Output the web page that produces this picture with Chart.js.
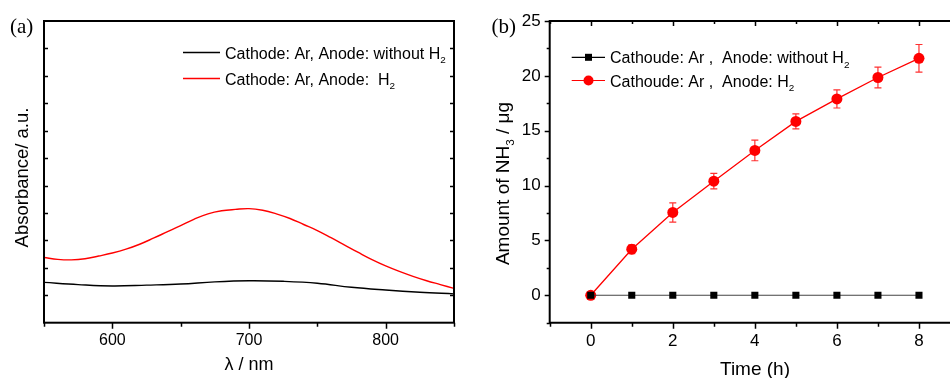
<!DOCTYPE html>
<html><head><meta charset="utf-8">
<script src="https://cdn.jsdelivr.net/npm/chart.js@4.4.1/dist/chart.umd.min.js"></script>
<style>
html,body{margin:0;padding:0;background:#fff;}
#wrap{position:relative;width:950px;height:378px;overflow:hidden;background:#fff;}
#pa{position:absolute;left:0;top:0;width:470px;height:378px;}
#pb{position:absolute;left:480px;top:0;width:490px;height:378px;}
</style></head><body>
<div id="wrap"><div id="pa"><canvas id="ca" width="470" height="378"></canvas></div><div id="pb"><canvas id="cb" width="490" height="378"></canvas></div></div>
<script>
// ---------- Panel (a) data ----------
const wlRed = [550,560,570,580,590,600,610,620,630,640,650,660,670,680,690,700,710,720,730,740,750,760,770,780,790,800,810,820,830,840,850];
const absH2 = [2.38,2.31,2.29,2.33,2.43,2.54,2.68,2.86,3.08,3.31,3.54,3.78,3.97,4.08,4.13,4.16,4.1,3.97,3.8,3.58,3.36,3.1,2.83,2.56,2.3,2.07,1.87,1.69,1.53,1.39,1.25];
const wlBlack = [550,575,600,625,650,675,700,725,750,775,800,825,850];
const absNoH2 = [1.47,1.39,1.34,1.37,1.41,1.49,1.53,1.51,1.44,1.29,1.19,1.11,1.05];
// ---------- Panel (b) data ----------
const timeH = [0,1,2,3,4,5,6,7,8];
const nh3NoH2 = [0,0,0,0,0,0,0,0,0];
const nh3H2 = [0,4.2,7.55,10.4,13.2,15.85,17.9,19.85,21.6];
const nh3H2Err = [0,0.4,0.88,0.71,0.94,0.68,0.83,0.95,1.26];

const SANS = '"Liberation Sans", Arial, sans-serif';
const SERIF = '"Liberation Serif", "Times New Roman", serif';

function richWidth(ctx, parts, size) {
  let w = 0;
  for (const p of parts) {
    ctx.font = (p.sub ? size * 0.62 : size) + 'px ' + SANS;
    w += ctx.measureText(p.t).width;
  }
  return w;
}
function drawRich(ctx, parts, x, y, size) {
  ctx.textBaseline = 'alphabetic';
  ctx.textAlign = 'left';
  for (const p of parts) {
    ctx.font = (p.sub ? size * 0.62 : size) + 'px ' + SANS;
    ctx.fillText(p.t, x, y + (p.sub ? size * 0.28 : 0));
    x += ctx.measureText(p.t).width;
  }
}

// ---------------- Panel (a) ----------------
const plugA = {
  id: 'decorA',
  afterDraw(chart) {
    const ctx = chart.ctx, ca = chart.chartArea;
    const xs = chart.scales.x, ys = chart.scales.y;
    ctx.save();
    ctx.strokeStyle = '#000';
    ctx.fillStyle = '#000';
    ctx.lineWidth = 2;
    ctx.strokeRect(ca.left, ca.top, ca.right - ca.left, ca.bottom - ca.top);
    ctx.lineWidth = 1.5;
    ctx.beginPath();
    ys.ticks.forEach(t => {
      if (t.value <= ys.min || t.value >= ys.max) return;
      const py = Math.round(ys.getPixelForValue(t.value)) + 0.5;
      ctx.moveTo(ca.left, py); ctx.lineTo(ca.left + 4, py);
      ctx.moveTo(ca.right, py); ctx.lineTo(ca.right - 4, py);
    });
    xs.ticks.forEach(t => {
      const px = Math.round(xs.getPixelForValue(t.value)) + 0.5;
      const len = (t.value % 100 === 0) ? 6 : 4;
      ctx.moveTo(px, ca.bottom); ctx.lineTo(px, ca.bottom + len);
    });
    ctx.stroke();
    // panel label
    ctx.font = '21px ' + SERIF;
    ctx.textAlign = 'left'; ctx.textBaseline = 'alphabetic';
    ctx.fillText('(a)', 10, 33);
    // axis titles
    ctx.font = '18px ' + SANS;
    ctx.textAlign = 'center';
    ctx.fillText('λ / nm', 249, 370);
    ctx.save();
    ctx.translate(27.5, 177.5);
    ctx.rotate(-Math.PI / 2);
    ctx.font = '18.5px ' + SANS;
    ctx.fillText('Absorbance/ a.u.', 0, 0);
    ctx.restore();
    // legend
    const rows = [
      {c: '#000', y: 52.5, parts: [{t: 'Cathode: Ar, Anode: without H'}, {t: '2', sub: true}]},
      {c: '#ff0000', y: 78.5, parts: [{t: 'Cathode: Ar, Anode:  H'}, {t: '2', sub: true}]}
    ];
    rows.forEach(r => {
      ctx.strokeStyle = r.c; ctx.lineWidth = 1.5;
      ctx.beginPath(); ctx.moveTo(183, r.y); ctx.lineTo(220, r.y); ctx.stroke();
      ctx.fillStyle = '#000';
      drawRich(ctx, r.parts, 225, r.y + 6, 16);
    });
    ctx.restore();
  }
};

new Chart(document.getElementById('ca'), {
  type: 'line',
  data: {
    datasets: [
      {label: 'Cathode: Ar, Anode: without H2', data: wlBlack.map((x, i) => ({x, y: absNoH2[i]})),
       borderColor: '#000', borderWidth: 1.4, pointRadius: 0, tension: 0.4, fill: false},
      {label: 'Cathode: Ar, Anode: H2', data: wlRed.map((x, i) => ({x, y: absH2[i]})),
       borderColor: '#ff0000', borderWidth: 1.4, pointRadius: 0, tension: 0.4, fill: false}
    ]
  },
  options: {
    responsive: false, animation: false, devicePixelRatio: 1,
    layout: {padding: {left: 0, top: 21, right: 16, bottom: 0}},
    plugins: {legend: {display: false}, tooltip: {enabled: false}},
    scales: {
      x: {type: 'linear', min: 550, max: 850,
          ticks: {stepSize: 50, autoSkip: false, maxRotation: 0, padding: 8, color: '#000',
                  font: {family: SANS, size: 16},
                  callback: v => (v % 100 === 0 ? String(v) : '')},
          grid: {display: false, drawTicks: false}, border: {display: false},
          afterFit: s => { s.height = 55.3; }},
      y: {type: 'linear', min: 0, max: 11,
          ticks: {stepSize: 1, display: false},
          grid: {display: false, drawTicks: false}, border: {display: false},
          afterFit: s => { s.width = 44; }}
    }
  },
  plugins: [plugA]
});

// ---------------- Panel (b) ----------------
const plugB = {
  id: 'decorB',
  beforeDatasetsDraw(chart) {
    const ctx = chart.ctx, xs = chart.scales.x, ys = chart.scales.y;
    ctx.save();
    ctx.strokeStyle = '#ff3030';
    ctx.lineWidth = 1.2;
    ctx.beginPath();
    timeH.forEach((t, i) => {
      const e = nh3H2Err[i];
      if (!e) return;
      const px = xs.getPixelForValue(t);
      const y1 = ys.getPixelForValue(nh3H2[i] + e), y2 = ys.getPixelForValue(nh3H2[i] - e);
      ctx.moveTo(px, y1); ctx.lineTo(px, y2);
      ctx.moveTo(px - 3.5, y1); ctx.lineTo(px + 3.5, y1);
      ctx.moveTo(px - 3.5, y2); ctx.lineTo(px + 3.5, y2);
    });
    ctx.stroke();
    ctx.restore();
  },
  afterDraw(chart) {
    const ctx = chart.ctx, ca = chart.chartArea;
    const xs = chart.scales.x, ys = chart.scales.y;
    ctx.save();
    ctx.strokeStyle = '#000'; ctx.fillStyle = '#000';
    ctx.lineWidth = 2;
    ctx.beginPath();
    ctx.moveTo(ca.left, ca.top); ctx.lineTo(ca.left, ca.bottom);
    ctx.moveTo(ca.left - 1, ca.bottom); ctx.lineTo(ca.right + 20, ca.bottom);
    ctx.moveTo(ca.left - 1, ca.top); ctx.lineTo(ca.right + 20, ca.top);
    ctx.stroke();
    ctx.lineWidth = 1.5;
    ctx.beginPath();
    ys.ticks.forEach(t => {
      const py = Math.round(ys.getPixelForValue(t.value)) + 0.5;
      const len = (t.value % 5 === 0) ? 5 : 3;
      ctx.moveTo(ca.left, py); ctx.lineTo(ca.left - len, py);
    });
    xs.ticks.forEach(t => {
      const px = Math.round(xs.getPixelForValue(t.value)) + 0.5;
      const major = (t.value % 2 === 0);
      ctx.moveTo(px, ca.bottom); ctx.lineTo(px, ca.bottom + (major ? 6 : 4));
      ctx.moveTo(px, ca.top); ctx.lineTo(px, ca.top + (major ? 5 : 3));
    });
    ctx.stroke();
    // panel label
    ctx.font = '21px ' + SERIF;
    ctx.textAlign = 'left'; ctx.textBaseline = 'alphabetic';
    ctx.fillText('(b)', 11.5, 33);
    // axis titles
    ctx.font = '19px ' + SANS;
    ctx.textAlign = 'center';
    ctx.fillText('Time (h)', 275, 375);
    ctx.save();
    ctx.translate(29, 183.5);
    ctx.rotate(-Math.PI / 2);
    const tParts = [{t: 'Amount of NH'}, {t: '3', sub: true}, {t: ' / μg'}];
    const tw = richWidth(ctx, tParts, 19);
    drawRich(ctx, tParts, -tw / 2, 0, 19);
    ctx.restore();
    // legend
    const rows = [
      {c: '#000', lc: '#000', y: 57.3, mk: 'rect', parts: [{t: 'Cathoude: Ar ,  Anode: without H'}, {t: '2', sub: true}]},
      {c: '#ff0000', lc: '#ff0000', y: 80.5, mk: 'circle', parts: [{t: 'Cathoude: Ar ,  Anode: H'}, {t: '2', sub: true}]}
    ];
    rows.forEach(r => {
      const x0 = 91.7, x1 = 125, xm = 108.5;
      ctx.strokeStyle = r.lc; ctx.lineWidth = 1.2;
      ctx.beginPath(); ctx.moveTo(x0, r.y); ctx.lineTo(x1, r.y); ctx.stroke();
      ctx.fillStyle = r.c;
      if (r.mk === 'rect') { ctx.fillRect(xm - 3.5, r.y - 3.5, 7, 7); }
      else { ctx.beginPath(); ctx.arc(xm, r.y, 5, 0, Math.PI * 2); ctx.fill(); }
      ctx.fillStyle = '#000';
      drawRich(ctx, r.parts, 130, r.y + 6, 16);
    });
    ctx.restore();
  }
};

new Chart(document.getElementById('cb'), {
  type: 'line',
  data: {
    datasets: [
      {label: 'Cathoude: Ar , Anode: without H2', data: timeH.map((x, i) => ({x, y: nh3NoH2[i]})),
       borderColor: '#444', borderWidth: 1.1, pointStyle: 'rect', pointRadius: 5,
       pointBackgroundColor: '#000', pointBorderColor: '#000', pointBorderWidth: 0, tension: 0},
      {label: 'Cathoude: Ar , Anode: H2', data: timeH.map((x, i) => ({x, y: nh3H2[i]})),
       borderColor: '#ff0000', borderWidth: 1.3, pointStyle: 'circle', pointRadius: 5.5,
       pointBackgroundColor: '#ff0000', pointBorderColor: '#ff0000', pointBorderWidth: 0, tension: 0}
    ]
  },
  options: {
    responsive: false, animation: false, devicePixelRatio: 1,
    layout: {padding: {left: 0, top: 21, right: 10, bottom: 0}},
    plugins: {legend: {display: false}, tooltip: {enabled: false}},
    scales: {
      x: {type: 'linear', min: -1, max: 9,
          ticks: {stepSize: 1, autoSkip: false, maxRotation: 0, padding: 8, color: '#000',
                  font: {family: SANS, size: 17},
                  callback: v => (v % 2 === 0 ? String(v) : '')},
          grid: {display: false, drawTicks: false}, border: {display: false},
          afterFit: s => { s.height = 55.3; }},
      y: {type: 'linear', min: -2.5, max: 25,
          ticks: {stepSize: 2.5, autoSkip: false, padding: 9, color: '#000',
                  font: {family: SANS, size: 17},
                  callback: v => (v % 5 === 0 ? String(v) : '')},
          grid: {display: false, drawTicks: false}, border: {display: false},
          afterFit: s => { s.width = 69.7; }}
    }
  },
  plugins: [plugB]
});
</script>
</body></html>
